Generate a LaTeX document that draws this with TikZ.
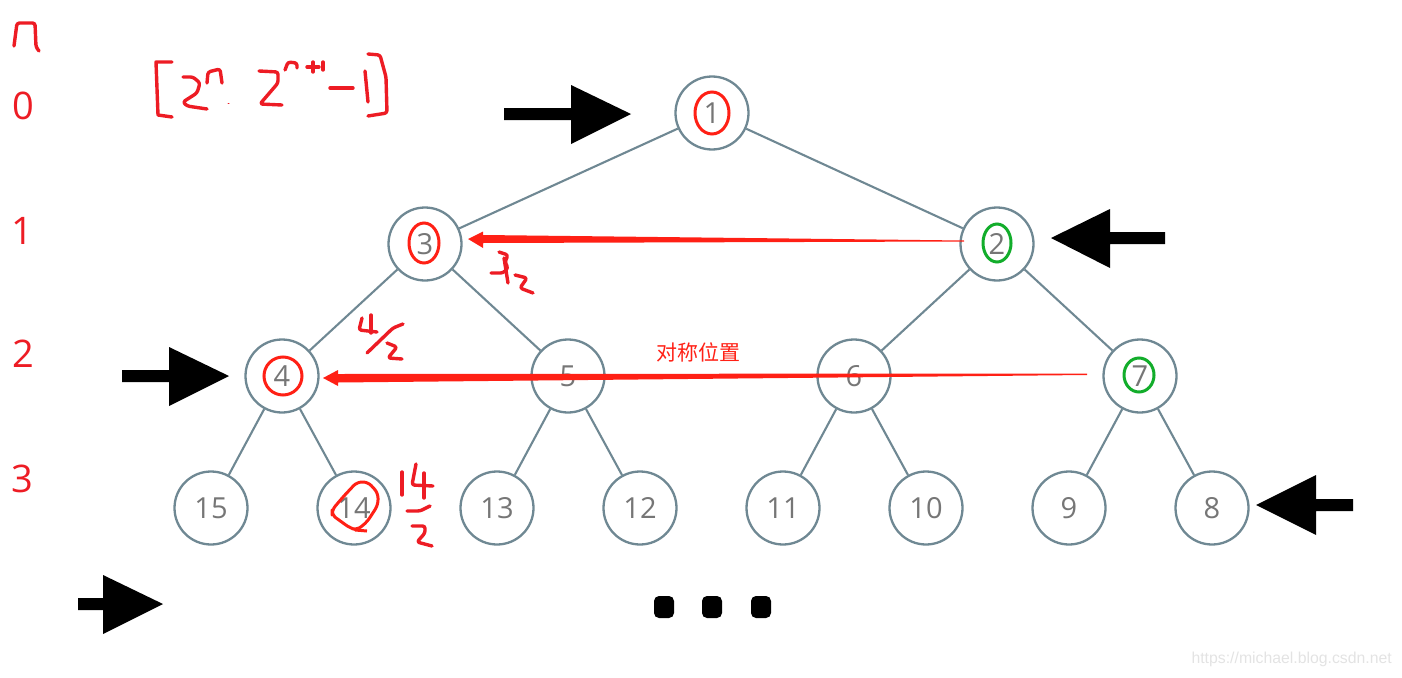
\documentclass[tikz,border=0pt]{standalone}
\usepackage{fontspec}
\setmainfont{Open Sans}
\newfontfamily\cjk{Noto Sans CJK SC}
\newfontfamily\wmfont{Liberation Sans}
\definecolor{edgec}{HTML}{6F8893}
\definecolor{txtc}{HTML}{767676}
\definecolor{redp}{HTML}{ED1C24}
\definecolor{redt}{HTML}{FF2015}
\definecolor{greent}{HTML}{12AD2B}
\tikzset{
  tree/.style={circle,draw=edgec,line width=2.3pt,minimum size=73pt,inner sep=0pt,fill=white,text=txtc,font=\fontsize{29}{29}\selectfont},
  link/.style={edgec,line width=2.1pt},
  level/.style={text=redp,font=\fontsize{38}{38}\selectfont,inner sep=0pt},
  pen/.style={redp,line width=3.4pt,line cap=round,line join=round,rounded corners=2.5pt},
  mark red/.style={draw=redt,line width=3pt},
  mark green/.style={draw=greent,line width=3pt},
}
\begin{document}
\begin{tikzpicture}[x=1pt,y=-1pt]
\useasboundingbox (0,0) rectangle (1402,677);
% tree nodes
\foreach \nm/\px/\py in {1/712/113,3/425/244,2/997/244,4/282/376,5/568/376,6/854/376,7/1140/376,15/211/508,14/354/508,13/497/508,12/640/508,11/783/508,10/926/508,9/1069/508,8/1212/508}
  \node[tree] (n\nm) at (\px,\py) {\nm};
% links
\foreach \a/\b in {1/3,1/2,3/4,3/5,2/6,2/7,4/15,4/14,5/13,5/12,6/11,6/10,7/9,7/8}
  \draw[link] (n\a) -- (n\b);
% level labels
\node[level] (l0) at (23,106) {0};
\node[level] (l1) at (22,231) {1};
\node[level] (l2) at (23,354) {2};
\node[level] (l3) at (22,479) {3};
% black arrows
\fill (504,108) -- (571,108) -- (571,85) -- (631,114) -- (571,144) -- (571,120) -- (504,120) -- cycle;
\fill (1165,232) -- (1110,232) -- (1110,209) -- (1051,238) -- (1110,268) -- (1110,244) -- (1165,244) -- cycle;
\fill (122,370) -- (169,370) -- (169,347) -- (229,376) -- (169,406) -- (169,382) -- (122,382) -- cycle;
\fill (1353,499) -- (1316,499) -- (1316,475) -- (1256,505) -- (1316,535) -- (1316,511) -- (1353,511) -- cycle;
\fill (78,598) -- (103,598) -- (103,575) -- (163,604) -- (103,634) -- (103,610) -- (78,610) -- cycle;
% ellipsis dots
\foreach \dx in {664,712,761}
  \fill[rounded corners=5pt] (\dx-10,596) rectangle (\dx+10,618);
% red arrows
\fill[redt] (964,240.5) -- (483,235) -- (483,231.5) -- (468,239) -- (483,248) -- (483,243) -- (964,241.5) -- cycle;
\fill[redt] (1087,373.5) -- (338,374) -- (338,370) -- (323,378) -- (338,386) -- (338,382.5) -- (1087,375) -- cycle;
% marks on nodes
\draw[mark red] (712,113) ellipse [x radius=17,y radius=21];
\draw[mark red] (424,243) ellipse [x radius=15,y radius=20];
\draw[mark green] (997,243) ellipse [x radius=14,y radius=19];
\draw[mark red] (283,376) ellipse [x radius=19,y radius=19];
\draw[mark green] (1139,375) ellipse [x radius=15,y radius=17];
\draw[mark red,line join=round,rounded corners=5pt] (357,482) -- (368,482) -- (378,493) -- (378,505) -- (367,522) -- (357,530) -- (350,528) -- (332,515) -- (332,510) -- (343,497) -- cycle;
\draw[mark red] (355,530) -- (367,531);
% n
\draw[pen] (14,46) -- (17,23) -- (35,23) -- (36,47) -- (39,51);
% formula
\begin{scope}[pen]
\draw[rounded corners=0pt] (172,62) -- (156,62) -- (158,115) -- (172,117);
\draw (183,77) -- (193,77) -- (200,83) -- (197,93) -- (183,102) -- (187,106) -- (207,109);
\draw (207,83) -- (208,72) -- (220,69) -- (222,83);
\draw[line width=1pt] (228,103) -- (229,103);
\draw (259,71) -- (278,72) -- (278,83) -- (260,104) -- (282,105);
\draw (285,70) -- (288,62) -- (297,63) -- (297,68);
\draw (307,67) -- (319,67);
\draw (313,62) -- (313,72);
\draw (323,62) -- (323,70);
\draw (330,88) -- (353,88);
\draw (365,71) -- (368,102);
\draw (368,54) -- (380,55) -- (386,77) -- (387,113) -- (368,116);
\end{scope}
% 3/2
\begin{scope}[pen]
\draw (499,252) -- (508,255) -- (505,262) -- (508,268) -- (503,273) -- (491,273);
\draw (504,258) -- (508,283);
\draw (515,275) -- (527,278) -- (520,288) -- (533,293);
\end{scope}
% 4/2
\begin{scope}[pen]
\draw (362,318) -- (359,330) -- (377,332);
\draw (371,315) -- (371,333);
\draw (403,324) -- (393,328) -- (367,353);
\draw (387,343) -- (397,347) -- (388,358) -- (402,359);
\end{scope}
% 14/2
\begin{scope}[pen]
\draw (402,472) -- (402,495);
\draw (416,464) -- (412,485) -- (433,486);
\draw (424,473) -- (424,498);
\draw (407,511) -- (420,511) -- (430,506);
\draw (412,526) -- (425,526) -- (425,533) -- (417,542) -- (432,546);
\end{scope}
% caption
\node[text=redt,inner sep=0pt,font=\cjk\fontsize{21}{21}\selectfont] (cap) at (698,352) {对称位置};
% watermark
\node[text=black!11,inner sep=0pt,anchor=east,font=\wmfont\fontsize{15.8}{15.8}\selectfont] (wm) at (1392,659) {https://michael.blog.csdn.net};
\end{tikzpicture}
\end{document}
